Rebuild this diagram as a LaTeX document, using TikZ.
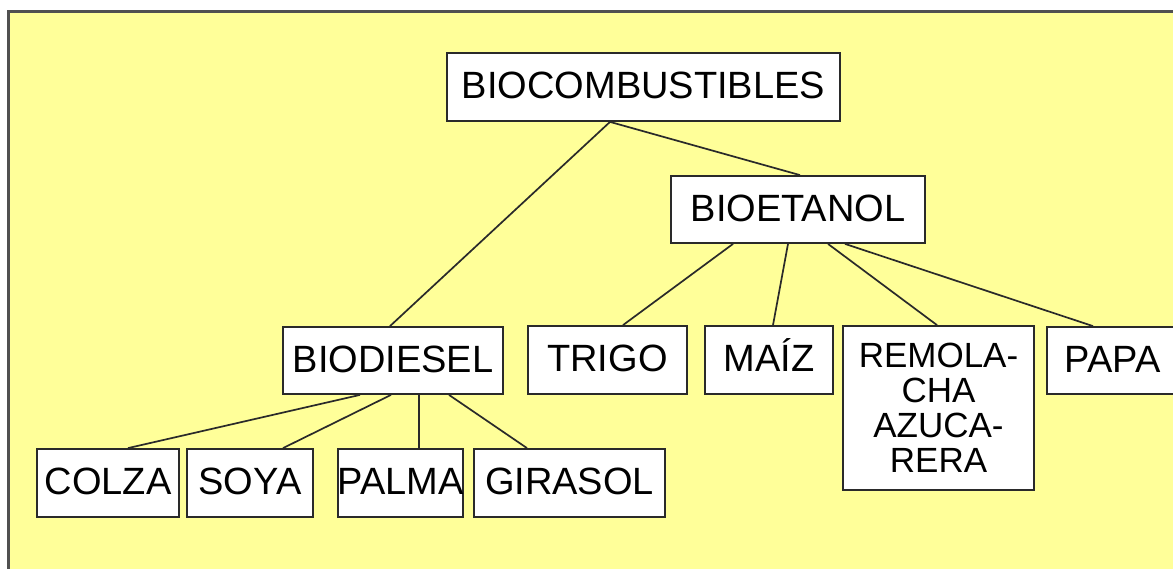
\documentclass[tikz,border=0pt]{standalone}
\usepackage{fontspec}
\setmainfont{Liberation Sans}
\definecolor{paper}{HTML}{FFFF99}
\definecolor{frame}{HTML}{505050}
\definecolor{ink}{HTML}{2A2A2A}
\begin{document}
\begin{tikzpicture}[x=1pt,y=-1pt,
  box/.style={draw=ink,line width=1.8pt,fill=white,inner sep=0pt,
    minimum height=68,text height=27.5pt,text depth=4pt,
    font=\fontsize{38}{44}\selectfont},
  link/.style={draw=ink,line width=1.7pt}]
\useasboundingbox (0,0) rectangle (1173,568);
\clip (0,0) rectangle (1173,568);
% panel
\draw[frame,fill=paper,line width=3pt] (8.5,11.5) rectangle (1200,600);

% boxes
\node[box,minimum width=393] (bio) at (643.5,87) {\makebox[0pt]{BIOCOMBUSTIBLES}};
\node[box,minimum width=254,minimum height=67] (eta) at (798,209.5) {\makebox[0pt]{BIOETANOL}};
\node[box,minimum width=220,minimum height=67] (die) at (393,360.5) {\makebox[0pt]{BIODIESEL}};
\node[box,minimum width=159] (tri) at (607.5,360) {\makebox[0pt]{TRIGO}};
\node[box,minimum width=128] (mai) at (769,360) {\makebox[0pt]{MAÍZ}};
\node[box,minimum width=191,minimum height=164,text height=,text depth=,align=center,
  font=\fontsize{35}{35}\selectfont] (rem) at (938.5,408)
  {REMOLA-\\CHA\\AZUCA-\\RERA};
\node[box,minimum width=131,minimum height=67] (pap) at (1112.5,360.5) {\makebox[0pt]{PAPA}};
\node[box,minimum width=142] (col) at (108,483) {\makebox[0pt]{COLZA}};
\node[box,minimum width=126] (soy) at (250,483) {\makebox[0pt]{SOYA}};
\node[box,minimum width=125] (pal) at (400.5,483) {\makebox[0pt]{PALMA}};
\node[box,minimum width=191] (gir) at (569.5,483) {\makebox[0pt]{GIRASOL}};

% connectors
\draw[link] ([xshift=-33.5pt]bio.south) -- ([xshift=-3pt]die.north);
\draw[link] ([xshift=-33.5pt]bio.south) -- ([xshift=2pt]eta.north);
\draw[link] ([xshift=-65pt]eta.south) -- ([xshift=15.5pt]tri.north);
\draw[link] ([xshift=-10pt]eta.south) -- ([xshift=4pt]mai.north);
\draw[link] ([xshift=30pt]eta.south) -- ([xshift=-1.5pt]rem.north);
\draw[link] ([xshift=47pt]eta.south) -- ([xshift=-19.5pt]pap.north);
\draw[link] ([xshift=-33pt]die.south) -- ([xshift=20pt]col.north);
\draw[link] ([xshift=-2pt]die.south) -- ([xshift=33pt]soy.north);
\draw[link] ([xshift=26pt]die.south) -- ([xshift=18.5pt]pal.north);
\draw[link] ([xshift=56pt]die.south) -- ([xshift=-42.5pt]gir.north);
\end{tikzpicture}
\end{document}
